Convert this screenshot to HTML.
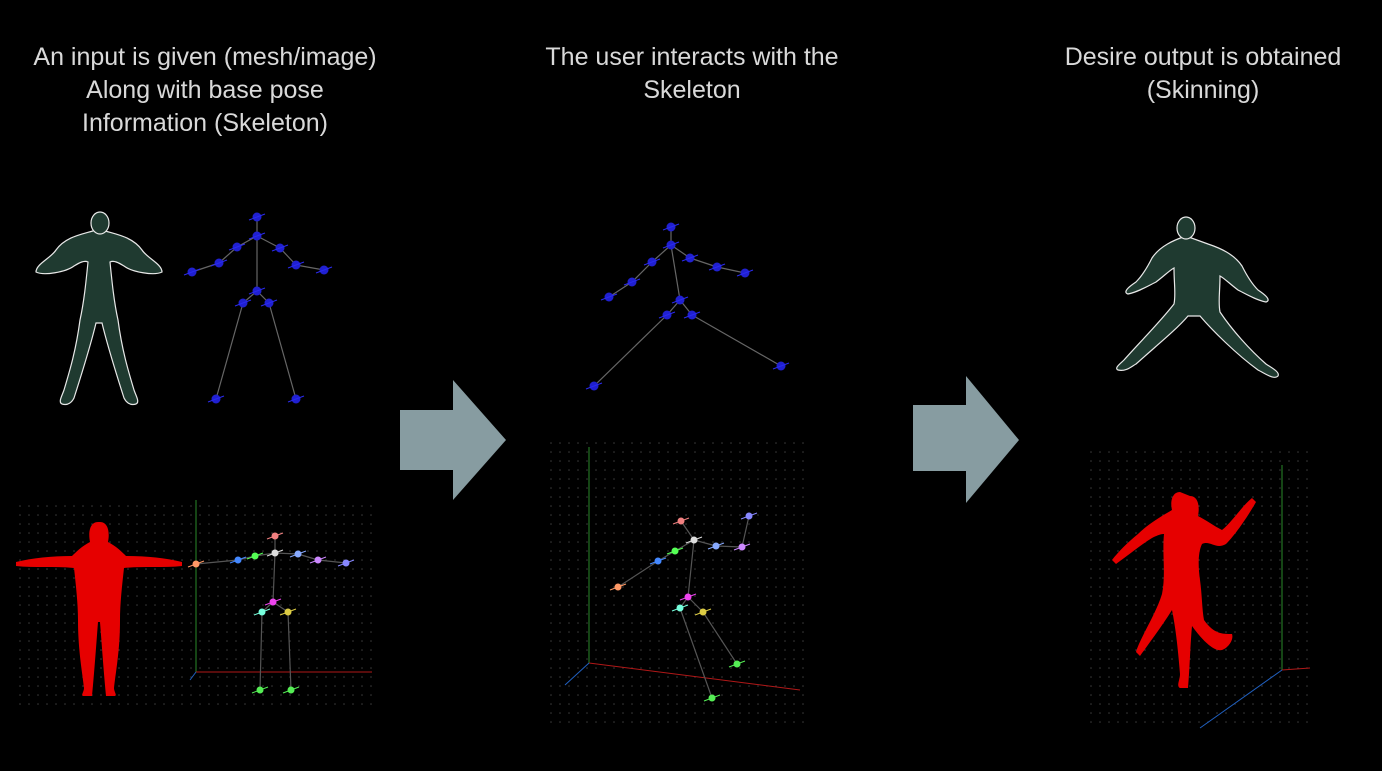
<!DOCTYPE html>
<html><head><meta charset="utf-8"><style>
html,body{margin:0;padding:0;background:#000;width:1382px;height:771px;overflow:hidden}
svg{display:block}
text{font-family:"Liberation Sans",sans-serif;font-size:25px;fill:#d9d9d9;text-anchor:middle}
</style></head><body>
<svg width="1382" height="771" viewBox="0 0 1382 771">
<defs>
<pattern id="dots" width="9" height="9" patternUnits="userSpaceOnUse"><circle cx="2" cy="2" r="0.8" fill="#3a3a3a"/></pattern>
</defs>
<rect width="1382" height="771" fill="#000"/>
<g>
<text x="205" y="65">An input is given (mesh/image)</text>
<text x="205" y="98">Along with base pose</text>
<text x="205" y="131">Information (Skeleton)</text>
</g>
<g>
<text x="692" y="65">The user interacts with the</text>
<text x="692" y="98">Skeleton</text>
</g>
<g>
<text x="1203" y="65">Desire output is obtained</text>
<text x="1203" y="98">(Skinning)</text>
</g>
<path d="M400 410H453V380L506 440L453 500V470H400Z" fill="#879ca1"/>
<path d="M913 405H966V376L1019 440L966 503V471H913Z" fill="#879ca1"/>
<g fill="#1f3a30" stroke="#e8e8e8" stroke-width="1.2">
<path d="M96 230c-12 4-30 6-40 20c-5 8-20 14-20 22c8 4 30 0 38-6c5-3 10-6 14-4c-2 20-4 40-8 58c-4 30-10 50-16 70c-2 6-6 12-2 14c6 2 10-2 12-6c8-25 16-50 22-75h6c6 25 14 50 22 75c2 4 6 8 12 6c4-2 0-8-2-14c-6-20-12-40-16-70c-4-18-6-38-8-58c4-2 9 1 14 4c8 6 30 10 38 6c0-8-15-14-20-22c-10-14-28-16-40-20z"/>
<ellipse cx="100" cy="223" rx="9" ry="11"/>
</g>
<g fill="#1f3a30" stroke="#e8e8e8" stroke-width="1.2">
<path d="M1186 236c-12 4-26 10-34 22c-4 8-10 18-16 24c-6 4-14 10-8 12c10-2 20-8 28-12c8-6 14-12 18-14c0 16 2 26 0 36c-14 18-34 38-50 56c-4 4-10 8-6 10c8 2 14-4 18-6c20-18 40-34 52-48h12c12 14 36 38 58 54c8 4 16 10 20 6c2-4-6-8-12-12c-16-14-34-34-46-52c-2-10 0-20 0-36c4 2 10 8 18 14c8 4 18 10 28 12c6-2-2-8-8-12c-6-6-12-16-16-24c-8-12-22-18-34-22z"/>
<ellipse cx="1186" cy="228" rx="9" ry="11"/>
</g>
<g id="sk1"></g>
<g id="sk2"></g>
<g>
<rect x="15" y="500" width="357" height="212" fill="url(#dots)"/>
<line x1="196" y1="500" x2="196" y2="672" stroke="#2a8a2a" stroke-width="1"/>
<line x1="196" y1="672" x2="372" y2="672" stroke="#b01818" stroke-width="1"/>
<line x1="196" y1="672" x2="190" y2="680" stroke="#2060c0" stroke-width="1"/>
<path fill="#e60000" d="M98 522c-8 0-10 10-8 20c-8 4-14 10-18 14c-20 0-40 2-56 6v4c18 2 38 0 58 2c2 18 4 36 4 52c0 30 4 50 6 68c0 4-4 8 0 8h8c2-20 4-48 6-74h2c2 26 4 54 6 74h8c4 0 0-4 0-8c2-18 6-38 6-68c0-16 2-34 4-52c20-2 40 0 58-2v-4c-16-4-36-6-56-6c-4-4-10-10-18-14c2-10 0-20-8-20z"/>
<g id="sk3"></g>
</g>
<g>
<rect x="550" y="440" width="260" height="285" fill="url(#dots)"/>
<line x1="589" y1="447" x2="589" y2="663" stroke="#2a8a2a"/>
<line x1="589" y1="663" x2="800" y2="690" stroke="#b01818"/>
<line x1="589" y1="663" x2="565" y2="685" stroke="#2060c0"/>
<g id="sk4"></g>
</g>
<g>
<rect x="1090" y="445" width="222" height="285" fill="url(#dots)"/>
<line x1="1282" y1="465" x2="1282" y2="670" stroke="#2a8a2a"/>
<line x1="1282" y1="670" x2="1310" y2="668" stroke="#b01818"/>
<line x1="1282" y1="670" x2="1200" y2="728" stroke="#2060c0"/>
<path fill="#e60000" d="M1180 492c-8 0-10 10-8 18c-10 6-24 14-34 24c-10 8-20 18-26 26l4 4c14-10 26-20 36-26c8-4 10-4 12-4c-2 20 2 40-2 60c-6 20-22 44-26 58l4 4c10-14 22-30 32-46c4 20 6 40 8 64c0 6-4 12 0 14h8c2-24 2-40 4-62c10 14 22 26 30 24c6-2 12-10 10-16c-10 0-18 0-28-14c-2-10-2-26-4-40c-2-14-2-28 2-36c8-4 14 6 24 0c10-10 22-28 30-42l-4-4c-10 8-20 24-30 32c-8-4-16-10-24-14c2-10 0-20-8-20z"/>
</g>
</svg>
<script>
// skeleton joint data (x,y) for each view
const bones=[[0,1],[1,2],[1,3],[2,4],[3,5],[4,6],[5,7],[1,8],[8,9],[8,10],[9,11],[10,12]];
const sk1X=[257,257,237,280,219,296,192,324,257,243,269,216,296];
const sk1Y=[217,236,247,248,263,265,272,270,291,303,303,399,399];
const sk2X=[671,671,652,690,632,717,609,745,680,667,692,594,781];
const sk2Y=[227,245,262,258,282,267,297,273,300,315,315,386,366];
const sk3X=[275,275,255,298,238,318,196,346,273,262,288,260,291];
const sk3Y=[536,553,556,554,560,560,564,563,602,612,612,690,690];
const sk4X=[681,694,675,716,658,742,618,749,688,680,703,712,737];
const sk4Y=[521,540,551,546,561,547,587,516,597,608,612,698,664];
const cols=["#f08080","#ddd","#5f5","#8af","#48f","#c8f","#f96","#88f","#e4e","#7fd","#dc4","#5e5","#5e5"];
function draw(id,X,Y,boneCol,jointFn){
  const g=document.getElementById(id);const ns="http://www.w3.org/2000/svg";
  bones.forEach(b=>{const l=document.createElementNS(ns,"line");
    
    
    l.setAttribute("x1",X[b[0]]);l.setAttribute("y1",Y[b[0]]);l.setAttribute("x2",X[b[1]]);l.setAttribute("y2",Y[b[1]]);
    l.setAttribute("stroke",boneCol);l.setAttribute("stroke-width","1.2");g.appendChild(l);});
  X.forEach((x,i)=>{const c=document.createElementNS(ns,"circle");
    
    
    c.setAttribute("cx",x);c.setAttribute("cy",Y[i]);c.setAttribute("r",jointFn? 3.5:4.5);
    c.setAttribute("fill",jointFn?cols[i]:"#2020d0");g.appendChild(c);
    const t=document.createElementNS(ns,"line");
    
    
    t.setAttribute("x1",x-8);t.setAttribute("y1",Y[i]+3);t.setAttribute("x2",x+8);t.setAttribute("y2",Y[i]-3);
    t.setAttribute("stroke",jointFn?cols[i]:"#2a2af0");t.setAttribute("stroke-width","1");g.appendChild(t);});
}
draw("sk1",sk1X,sk1Y,"#666",false);
draw("sk2",sk2X,sk2Y,"#666",false);
draw("sk3",sk3X,sk3Y,"#555",true);
draw("sk4",sk4X,sk4Y,"#555",true);
</script>
</body></html>
